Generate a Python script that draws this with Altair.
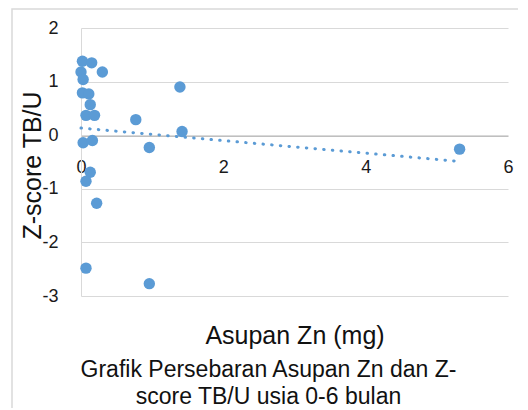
import altair as alt
import pandas as pd

# Asupan Zn (mg) and Z-score TB/U
zn = [0.02, 0.15, 0.30, 0.00, 0.03, 1.39, 0.02, 0.11, 0.13, 0.07, 0.19,
      0.77, 1.42, 0.03, 0.16, 0.96, 0.13, 0.07, 0.22, 0.07, 0.96, 5.32]
zscore = [1.38, 1.35, 1.18, 1.18, 1.04, 0.90, 0.79, 0.77, 0.57, 0.37, 0.37,
          0.29, 0.07, -0.14, -0.10, -0.23, -0.69, -0.86, -1.27, -2.48, -2.77, -0.26]

x_ticks = [0, 2, 4, 6]
y_ticks = [-3, -2, -1, 0, 1, 2]

df = pd.DataFrame({"zn": zn, "z": zscore})

BLUE = "#5B9BD5"
FONT = "Liberation Sans"

x_enc = alt.X(
    "zn:Q",
    scale=alt.Scale(domain=[0, 6], nice=False, zero=False),
    axis=alt.Axis(
        values=x_ticks, grid=False, ticks=False, offset=-160,
        domainColor="#bfbfbf", domainWidth=1,
        labelExpr="'' + datum.value",
        labelPadding=22, labelFontSize=18, labelFont=FONT, labelColor="#1a1a1a",
        labelFlush=False,
        title="Asupan Zn (mg)", titleFontSize=25, titleFont=FONT,
        titleFontWeight="normal", titleColor="#111111",
        titleY=207, titleBaseline="alphabetic",
    ),
)
y_enc = alt.Y(
    "z:Q",
    scale=alt.Scale(domain=[-3, 2], nice=False, zero=False),
    axis=alt.Axis(
        values=y_ticks, grid=True, gridColor="#d9d9d9", ticks=False,
        domainColor="#d9d9d9",
        labelExpr="'' + datum.value",
        labelPadding=23, labelFontSize=18, labelFont=FONT, labelColor="#1a1a1a",
        title="Z-score TB/U", titleFontSize=25, titleFont=FONT,
        titleFontWeight="normal", titleColor="#111111",
        titleX=-49, titleY=137, titleBaseline="middle", titleAlign="center",
        titleAngle=270,
    ),
)

# outer chart-area border (decoration only)
frame = alt.Chart(alt.Data(values=[{}])).mark_rect(
    fill="white", fillOpacity=0, stroke="#d9d9d9", strokeWidth=1.5
).encode(
    x=alt.value(-69), y=alt.value(-19), x2=alt.value(520), y2=alt.value(390)
)

points = alt.Chart(df).mark_circle(size=130, color=BLUE, opacity=1).encode(
    x=x_enc, y=y_enc
)

trend = alt.Chart(df).transform_regression("zn", "z", method="linear").mark_line(
    color=BLUE, strokeWidth=3, strokeDash=[0.5, 8.2], strokeCap="round"
).encode(x="zn:Q", y="z:Q")

chart = alt.layer(frame, points, trend).properties(
    width=427,
    height=268,
    autosize=alt.AutoSizeParams(type="none"),
    padding={"left": 73, "top": 20, "right": 10, "bottom": 112},
    title=alt.TitleParams(
        text=["Grafik Persebaran Asupan Zn dan Z-", "score TB/U usia 0-6 bulan"],
        orient="bottom", anchor="middle", dx=-26, offset=-60,
        fontSize=23, lineHeight=27, font=FONT, fontWeight="normal", color="#111111",
    ),
).configure_view(stroke=None).configure_title(font=FONT, fontSize=23, fontWeight="normal")

chart.save("out.html", embed_options={"renderer": "svg", "actions": False})
